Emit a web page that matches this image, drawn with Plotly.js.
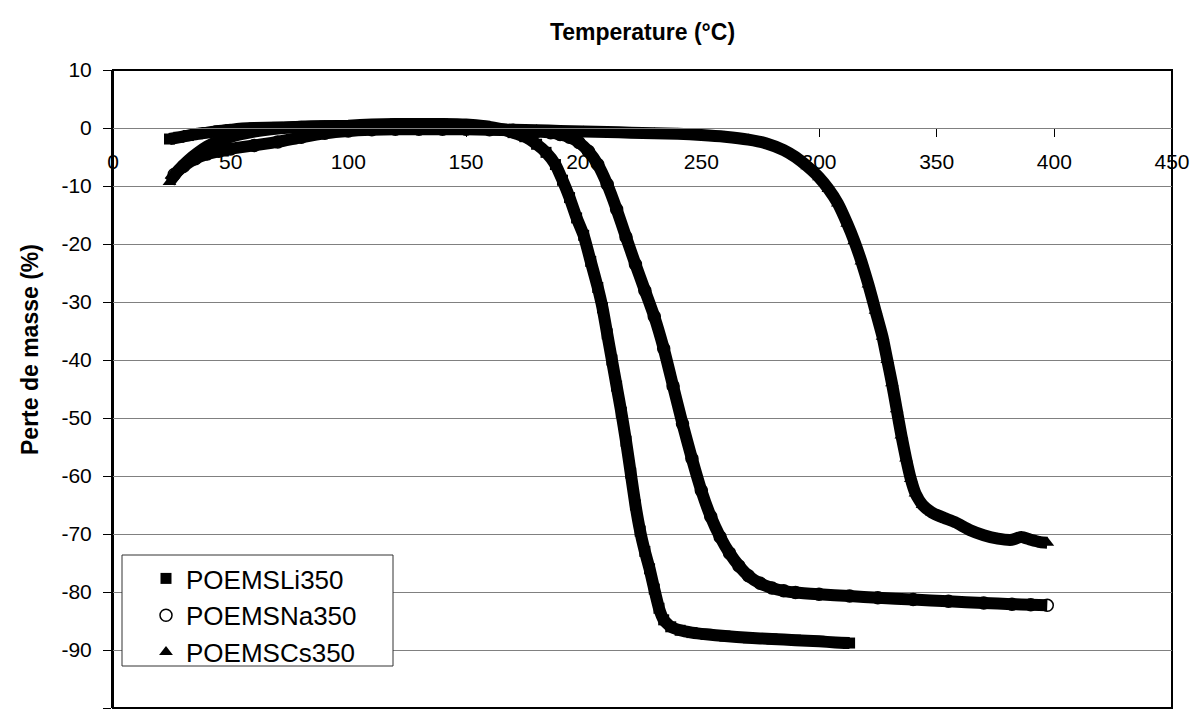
<!DOCTYPE html>
<html>
<head>
<meta charset="utf-8">
<script src="https://cdn.plot.ly/plotly-3.0.1.min.js"></script>
<style>html,body{margin:0;padding:0;background:#fff}#chart{width:1192px;height:716px}</style>
</head>
<body>
<div id="chart"></div>
<script>
// ---- Data ----
const seriesNames = ["POEMSLi350", "POEMSNa350", "POEMSCs350"];
const xTitle = "Temperature (°C)";
const yTitle = "Perte de masse (%)";
const xTickVals = [0, 50, 100, 150, 200, 250, 300, 350, 400, 450];
const yTickVals = [-100, -90, -80, -70, -60, -50, -40, -30, -20, -10, 0, 10];

const liT = [24, 28, 32, 36, 40, 45, 50, 55, 60, 70, 80, 90, 100, 110, 120, 130, 140, 150, 158, 165, 170, 175, 180, 184, 188, 191, 194, 197, 200, 203, 206, 208, 210, 212, 214, 216, 218, 220, 222, 224, 226, 228, 230, 232, 234, 237, 241, 246, 252, 260, 270, 280, 290, 300, 307, 313];
const liY = [-1.9, -1.6, -1.3, -1.0, -0.8, -0.5, -0.3, -0.1, 0, 0.1, 0.2, 0.3, 0.4, 0.6, 0.7, 0.7, 0.7, 0.6, 0.3, -0.2, -0.8, -1.5, -2.8, -4.2, -6.3, -9, -12, -15.5, -18.5, -23, -27.5, -31, -35.5, -40, -44.5, -49, -54, -59.5, -65, -69.5, -73, -76, -79.5, -82.8, -84.8, -86, -86.6, -87, -87.3, -87.6, -87.9, -88.1, -88.3, -88.5, -88.7, -88.8];

const naT = [26, 30, 35, 40, 45, 50, 60, 70, 80, 90, 100, 110, 120, 130, 140, 150, 160, 170, 180, 186, 190, 194, 198, 202, 206, 210, 214, 218, 222, 226, 230, 234, 238, 242, 246, 250, 254, 258, 262, 266, 270, 275, 280, 285, 290, 300, 313, 325, 340, 355, 370, 382, 390, 397];
const naY = [-8, -6.6, -5.3, -4.5, -4, -3.6, -3, -2.4, -1.6, -0.9, -0.5, -0.3, -0.2, -0.2, -0.2, -0.2, -0.3, -0.4, -0.6, -0.8, -1.1, -1.6, -2.5, -4, -6.3, -9.7, -14, -18.8, -23.5, -28, -32.5, -38, -44.5, -51, -57, -62.5, -67, -70.5, -73.3, -75.5, -77.2, -78.5, -79.3, -79.8, -80.1, -80.4, -80.7, -81, -81.3, -81.6, -81.9, -82.1, -82.2, -82.3];

const csT = [24, 28, 32, 36, 40, 45, 50, 55, 60, 70, 80, 90, 100, 110, 120, 130, 140, 150, 160, 170, 180, 190, 200, 210, 220, 230, 240, 250, 260, 270, 278, 285, 290, 295, 300, 304, 308, 312, 315, 318, 321, 324, 327, 329, 331, 333, 335, 337, 339, 341, 344, 348, 353, 358, 364, 370, 376, 382, 386, 390, 394, 397];
const csY = [-9.3, -7.2, -5.6, -4.3, -3.2, -2.2, -1.5, -1, -0.6, -0.1, 0.2, 0.3, 0.3, 0.3, 0.2, 0.1, 0, -0.1, -0.2, -0.3, -0.4, -0.5, -0.6, -0.7, -0.8, -0.9, -1.0, -1.2, -1.5, -2, -2.7, -3.8, -5, -6.6, -8.5, -10.5, -13, -16.5, -19.5, -23, -27, -31.5, -36, -40, -44, -48.5, -53, -57, -60.5, -63, -65, -66.3, -67.2, -68, -69.3, -70.2, -70.8, -71, -70.5, -71, -71.4, -71.5];

// ---- Traces ----
const FONT = "Liberation Sans, Arial, sans-serif";
function band(x, y, w) {
  return {x: x, y: y, type: "scatter", mode: "lines", showlegend: false, hoverinfo: "skip",
          line: {color: "#000", width: w, shape: "spline", smoothing: 0.5}};
}
const traces = [
  band(liT, liY, 12), band(naT, naY, 12), band(csT, csY, 12),
  {x: liT, y: liY, name: seriesNames[0], type: "scatter", mode: "markers",
   marker: {symbol: "square", size: 11, color: "#000"}},
  {x: naT, y: naY, name: seriesNames[1], type: "scatter", mode: "markers",
   marker: {symbol: "circle-open", size: 12, color: "#000", line: {width: 1.5, color: "#000"}}},
  {x: csT, y: csY, name: seriesNames[2], type: "scatter", mode: "markers",
   marker: {symbol: "triangle-up", size: 12, color: "#000"}}
];

const layout = {
  width: 1192, height: 716,
  margin: {l: 113, r: 20, t: 70, b: 8},
  paper_bgcolor: "#fff", plot_bgcolor: "#fff",
  font: {family: FONT, color: "#000", size: 21},
  showlegend: true,
  title: {text: "<b>" + xTitle + "</b>", font: {family: FONT, size: 23, color: "#000"},
          x: 0.5, xref: "paper", xanchor: "center", y: 1 - 32 / 716, yref: "container", yanchor: "middle"},
  xaxis: {
    range: [0, 450], tickvals: xTickVals, ticktext: xTickVals.map(String),
    anchor: "free", position: 100 / 110,
    showgrid: false, zeroline: false,
    showline: true, linecolor: "#808080", linewidth: 1,
    ticks: "outside", ticklen: 8, tickcolor: "#000", tickwidth: 1,
    ticklabelstandoff: 7,
    tickfont: {family: FONT, size: 21, color: "#000"}
  },
  yaxis: {
    range: [-100, 10], tickvals: yTickVals, ticktext: yTickVals.map(String),
    showgrid: true, gridcolor: "#808080", gridwidth: 1, zeroline: false,
    showline: true, linecolor: "#000", linewidth: 2,
    ticks: "outside", ticklen: 8, tickcolor: "#000", tickwidth: 1,
    ticklabelstandoff: 7,
    tickfont: {family: FONT, size: 21, color: "#000"}
  },
  annotations: [
    {text: "<b>" + yTitle + "</b>", textangle: -90, xref: "paper", yref: "paper",
     x: -83 / 1059, y: (708 - 350) / 638, xanchor: "center", yanchor: "middle", showarrow: false,
     font: {family: FONT, size: 23, color: "#000"}}
  ],
  legend: {
    x: (122 - 113) / 1059, y: (708 - 555) / 638, xanchor: "left", yanchor: "top",
    bgcolor: "rgba(0,0,0,0)", borderwidth: 0,
    font: {family: FONT, size: 26, color: "#000"},
    itemwidth: 30, indentation: 24, tracegroupgap: 0
  },
  shapes: [
    {type: "rect", xref: "paper", yref: "paper", x0: 0, x1: 1, y0: 0, y1: 1,
     line: {color: "#000", width: 2}, layer: "below"},
    {type: "rect", xref: "paper", yref: "paper",
     x0: (122 - 113) / 1059, x1: (393 - 113) / 1059, y0: (708 - 666) / 638, y1: (708 - 555) / 638,
     fillcolor: "#fff", line: {color: "#333", width: 1}, layer: "above"}
  ]
};

Plotly.newPlot("chart", traces, layout, {displayModeBar: false, staticPlot: true});
</script>
</body>
</html>
